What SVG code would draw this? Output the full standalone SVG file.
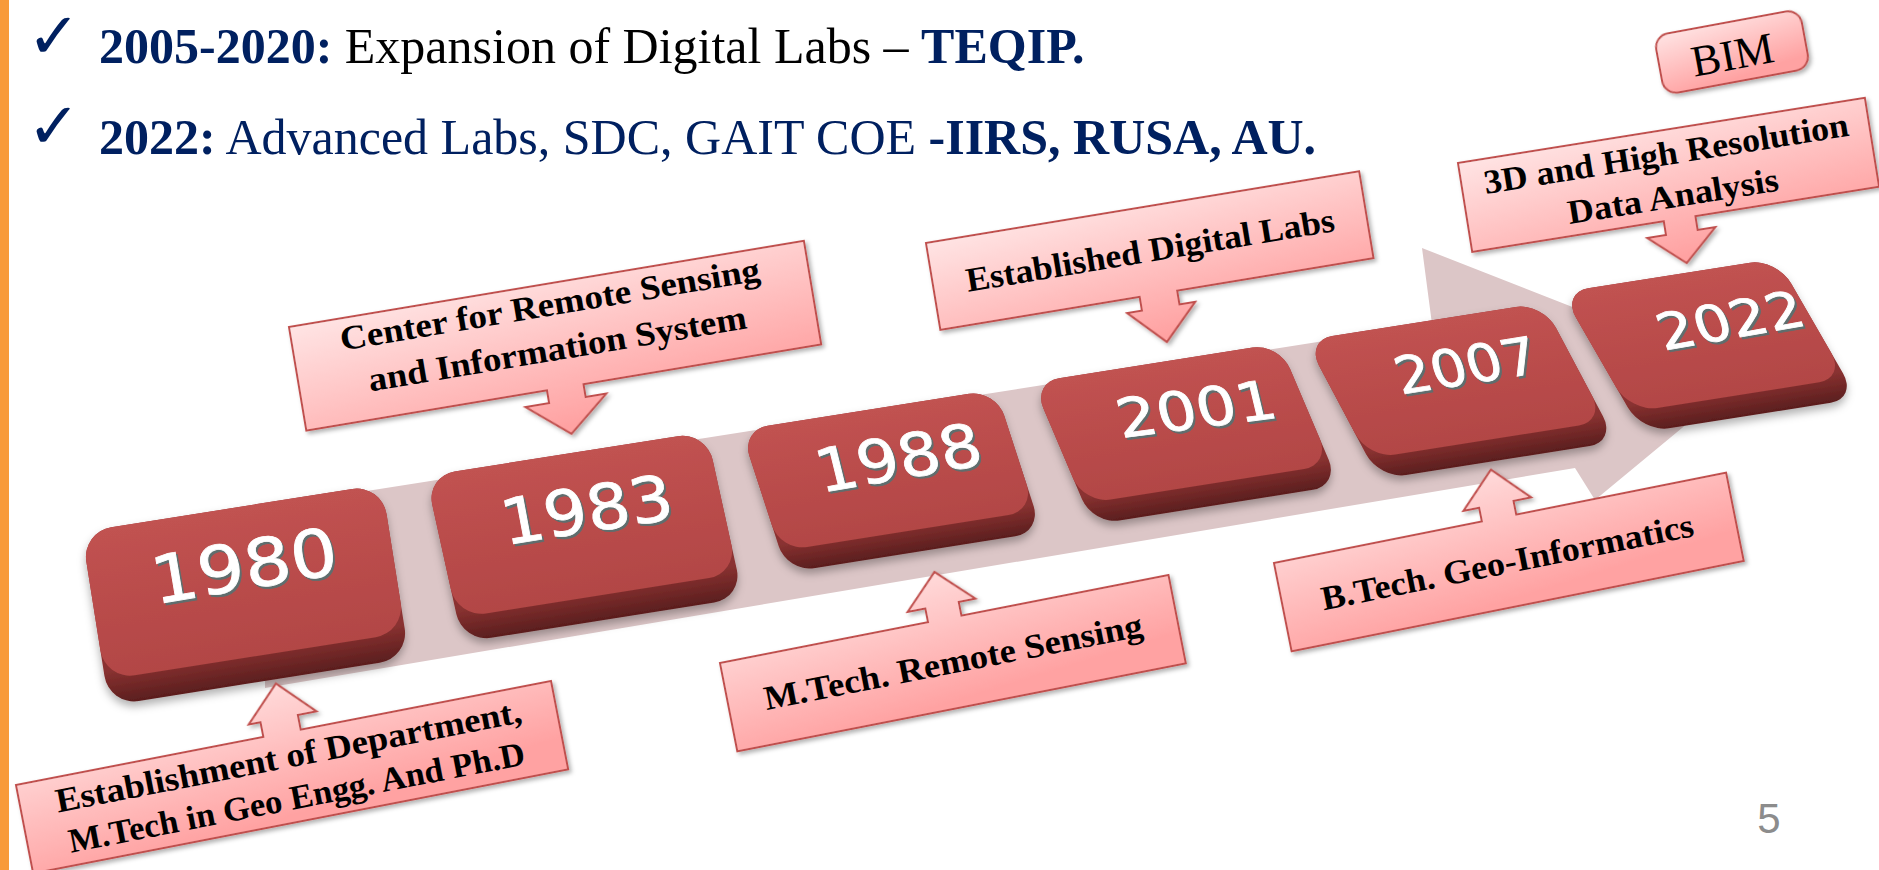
<svg xmlns="http://www.w3.org/2000/svg" width="1879" height="870" viewBox="0 0 1879 870">
<defs>
<linearGradient id="kface" x1="0" y1="0" x2="0" y2="1">
<stop offset="0" stop-color="#C15251"/>
<stop offset="1" stop-color="#B24645"/>
</linearGradient>
<linearGradient id="kside" x1="0" y1="0" x2="0" y2="1">
<stop offset="0" stop-color="#9A3938"/>
<stop offset="0.8" stop-color="#8A3231"/>
<stop offset="1" stop-color="#5A1E1E"/>
</linearGradient>
<linearGradient id="cg" x1="0" y1="0" x2="0.35" y2="1">
<stop offset="0" stop-color="#FFE4E4"/>
<stop offset="1" stop-color="#FFA2A2"/>
</linearGradient>
<filter id="sh" x="-10%" y="-20%" width="130%" height="150%">
<feDropShadow dx="2" dy="3" stdDeviation="2" flood-color="#000" flood-opacity="0.3"/>
</filter>
<filter id="ksh" x="-10%" y="-10%" width="130%" height="140%">
<feDropShadow dx="0" dy="5" stdDeviation="4" flood-color="#000" flood-opacity="0.3"/>
</filter>
</defs>
<style>
.co{fill:url(#cg);stroke:#C0504D;stroke-width:2;filter:url(#sh)}
.ct{font-family:"Liberation Serif",serif;font-weight:700;font-size:34px;text-anchor:middle;fill:#000}
.ks{fill:url(#kside)}
.kf{fill:url(#kface)}
.yr{font-family:"DejaVu Sans",sans-serif;fill:#FFFFFF;stroke:#FFFFFF;stroke-width:0.8;text-anchor:middle}
.yrs{font-family:"DejaVu Sans",sans-serif;fill:#5F6E6E;stroke:#5F6E6E;stroke-width:0.8;text-anchor:middle}
.hd{font-family:"Liberation Serif",serif;font-size:50px}
.nv{fill:#002060}
.ck{font-family:"DejaVu Sans",sans-serif;font-size:64px;fill:#002060}
</style>
<rect width="1879" height="870" fill="#FFFFFF"/>
<rect x="0" y="0" width="9" height="870" fill="#F89A3A"/>

<g id="header">
<text class="ck" x="27" y="58">✓</text>
<text class="hd" x="99" y="63"><tspan class="nv" font-weight="bold">2005-2020:</tspan><tspan fill="#000"> Expansion of Digital Labs – </tspan><tspan class="nv" font-weight="bold">TEQIP.</tspan></text>
<text class="ck" x="27" y="148">✓</text>
<text class="hd nv" x="99" y="154"><tspan font-weight="bold">2022:</tspan><tspan> Advanced Labs, SDC, GAIT COE </tspan><tspan font-weight="bold">-IIRS, RUSA, AU.</tspan></text>
</g>

<g id="connectors">
<polygon id="band" points="265,507 1432,324 1422,248 1746,375 1595,500 1575,468 265,688" fill="#DCC6C7"/>
</g>

<g id="key1980" filter="url(#ksh)">
<g transform="translate(245.5,595) rotate(-9)">
<rect class="ks" x="-152" y="-88" width="304" height="176" rx="30"/>
<rect class="kf" x="-152" y="-88" width="304" height="150" rx="30"/>
</g>
<g transform="translate(244,565) rotate(-9.5)">
<text class="yrs" x="1.5" y="26.5" font-size="66" textLength="188" lengthAdjust="spacingAndGlyphs">1980</text>
<text class="yr" x="0" y="24" font-size="66" textLength="188" lengthAdjust="spacingAndGlyphs">1980</text>
</g>
</g>

<g id="key1983" filter="url(#ksh)">
<g transform="translate(584.5,537) rotate(-9) skewX(3.4)">
<rect class="ks" x="-142" y="-85" width="284" height="170" rx="29"/>
<rect class="kf" x="-142" y="-85" width="284" height="145" rx="29"/>
</g>
<g transform="translate(586.5,509) rotate(-8.9) skewX(1.7)">
<text class="yrs" x="1.5" y="25.5" font-size="63" textLength="173" lengthAdjust="spacingAndGlyphs">1983</text>
<text class="yr" x="0" y="23" font-size="63" textLength="173" lengthAdjust="spacingAndGlyphs">1983</text>
</g>
</g>

<g id="key1988" filter="url(#ksh)">
<g transform="translate(891.5,481) rotate(-9) skewX(9)">
<rect class="ks" x="-129" y="-74" width="258" height="148" rx="27"/>
<rect class="kf" x="-129" y="-74" width="258" height="126" rx="27"/>
</g>
<g transform="translate(898,457) rotate(-9.8) skewX(4)">
<text class="yrs" x="1.5" y="24.5" font-size="60" textLength="167" lengthAdjust="spacingAndGlyphs">1988</text>
<text class="yr" x="0" y="22" font-size="60" textLength="167" lengthAdjust="spacingAndGlyphs">1988</text>
</g>
</g>

<g id="key2001" filter="url(#ksh)">
<g transform="translate(1186,434) rotate(-9) skewX(14)">
<rect class="ks" x="-125" y="-75" width="250" height="150" rx="27"/>
<rect class="kf" x="-125" y="-75" width="250" height="128" rx="27"/>
</g>
<g transform="translate(1196,408.5) rotate(-7.4) skewX(6)">
<text class="yrs" x="1.5" y="22" font-size="54" textLength="160" lengthAdjust="spacingAndGlyphs">2001</text>
<text class="yr" x="0" y="19.5" font-size="54" textLength="160" lengthAdjust="spacingAndGlyphs">2001</text>
</g>
</g>

<g id="key2007" filter="url(#ksh)">
<g transform="translate(1461,391) rotate(-9) skewX(19)">
<rect class="ks" x="-120" y="-74.5" width="240" height="149" rx="27"/>
<rect class="kf" x="-120" y="-74.5" width="240" height="127" rx="27"/>
</g>
<g transform="translate(1466,365) rotate(-9) skewX(8)">
<text class="yrs" x="1.5" y="21.5" font-size="52" textLength="143" lengthAdjust="spacingAndGlyphs">2007</text>
<text class="yr" x="0" y="19" font-size="52" textLength="143" lengthAdjust="spacingAndGlyphs">2007</text>
</g>
</g>

<g id="key2022" filter="url(#ksh)">
<g transform="translate(1709.5,345.5) rotate(-9) skewX(21)">
<rect class="ks" x="-109" y="-75.5" width="218" height="151" rx="27"/>
<rect class="kf" x="-109" y="-75.5" width="218" height="129" rx="27"/>
</g>
<g transform="translate(1730,320) rotate(-10) skewX(9)">
<text class="yrs" x="1.5" y="21" font-size="51" textLength="147" lengthAdjust="spacingAndGlyphs">2022</text>
<text class="yr" x="0" y="18.5" font-size="51" textLength="147" lengthAdjust="spacingAndGlyphs">2022</text>
</g>
</g>

<g id="callout1980" transform="translate(16,785) rotate(-11)">
<path class="co" d="M0,0 H252 V-15 H240 L274.5,-50 L309,-15 H290 V0 H545 V90 H0 Z"/>
<text class="ct" x="273" y="35" textLength="474" lengthAdjust="spacingAndGlyphs">Establishment of Department,</text>
<text class="ct" x="273" y="77" textLength="464" lengthAdjust="spacingAndGlyphs">M.Tech in Geo Engg. And Ph.D</text>
</g>

<g id="callout1983" transform="translate(289,327) rotate(-9.5)">
<path class="co" d="M0,0 H522 V105 H281 V118 H302 L261,152 L220,118 H244 V105 H0 Z"/>
<text class="ct" x="261" y="32" textLength="425" lengthAdjust="spacingAndGlyphs">Center for Remote Sensing</text>
<text class="ct" x="261" y="77" textLength="383" lengthAdjust="spacingAndGlyphs">and Information System</text>
</g>

<g id="callout1988" transform="translate(720,663) rotate(-11.1)">
<path class="co" d="M0,0 H212 V-14 H194 L228,-48 L263,-14 H246 V0 H457 V90 H0 Z"/>
<text class="ct" x="229" y="55" textLength="385" lengthAdjust="spacingAndGlyphs">M.Tech. Remote Sensing</text>
</g>

<g id="callout2001" transform="translate(926,243) rotate(-9.4)">
<path class="co" d="M0,0 H439 V88 H240 V102 H256 L221.5,137 L187,102 H202 V88 H0 Z"/>
<text class="ct" x="220" y="55" textLength="373" lengthAdjust="spacingAndGlyphs">Established Digital Labs</text>
</g>

<g id="callout2007" transform="translate(1274,563) rotate(-11.3)">
<path class="co" d="M0,0 H212 V-14 H196 L231,-49 L265,-14 H247 V0 H461 V90 H0 Z"/>
<text class="ct" x="229" y="56" textLength="379" lengthAdjust="spacingAndGlyphs">B.Tech. Geo-Informatics</text>
</g>

<g id="callout2022" transform="translate(1458,163) rotate(-9.1)">
<path class="co" d="M0,0 H412 V90 H226 V104 H244 L210,135 L175,104 H194 V90 H0 Z"/>
<text class="ct" x="207" y="35" textLength="369" lengthAdjust="spacingAndGlyphs">3D and High Resolution</text>
<text class="ct" x="207" y="78" textLength="213" lengthAdjust="spacingAndGlyphs">Data Analysis</text>
</g>

<g id="bim" transform="translate(1732,52) rotate(-10.5)">
<rect class="co" x="-74" y="-30" width="148" height="60" rx="14"/>
<text x="0" y="17.5" font-family="Liberation Serif,serif" font-size="44" text-anchor="middle" fill="#000">BIM</text>
</g>

<text id="pagenum" x="1769" y="833" font-family="Liberation Sans,sans-serif" font-size="42" fill="#8C8C8C" text-anchor="middle">5</text>
</svg>
